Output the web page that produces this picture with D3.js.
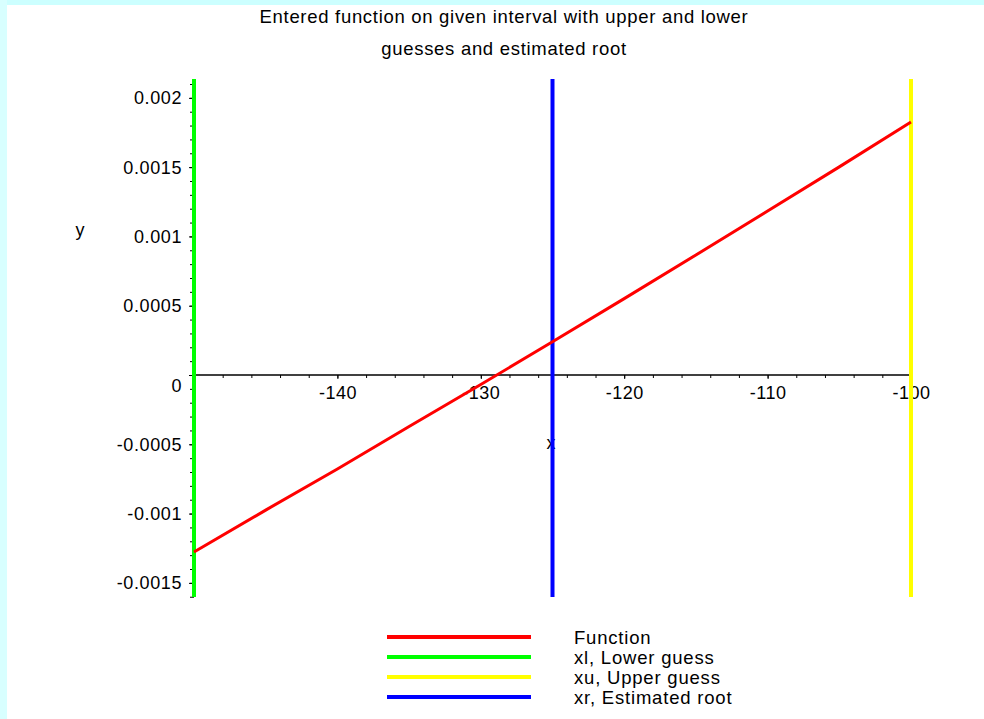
<!DOCTYPE html>
<html>
<head>
<meta charset="utf-8">
<script src="https://cdn.jsdelivr.net/npm/d3@7"></script>
<style>
  html, body { margin: 0; padding: 0; background: #ffffff; }
  svg { display: block; }
  text { font-family: "Liberation Sans", Arial, sans-serif; fill: #000; }
</style>
</head>
<body>
<svg id="chart" width="984" height="719"></svg>
<script>
// ---- data ----
const titleLines = ["Entered function on given interval with upper and lower", "guesses and estimated root"];
const xValues = [-150, -145, -140, -135, -130, -125, -120, -115, -110, -105, -100];
const fValues = [-0.001277, -0.000975, -0.000678, -0.000372, -0.000069, 0.00024, 0.000551, 0.000866, 0.001183, 0.001502, 0.001825];
const xDomain = [-150, -100];
const yDomain = [-0.001602, 0.002136];
const xMajorTicks = [-140, -130, -120, -110, -100];
const xTickLabels = ["-140", "-130", "-120", "-110", "-100"];
const xMinorTicks = d3.range(-150, -99, 2);
const yMajorTicks = [-0.0015, -0.001, -0.0005, 0, 0.0005, 0.001, 0.0015, 0.002];
const yTickLabels = ["-0.0015", "-0.001", "-0.0005", "0", "0.0005", "0.001", "0.0015", "0.002"];
const yMinorTicks = d3.range(-16, 22).map(d => d / 10000);
const guessValues = [-150, -100, -125];
const legendLabels = ["Function", "xl, Lower guess", "xu, Upper guess", "xr, Estimated root"];
const seriesColors = ["#ff0000", "#00ff00", "#ffff00", "#0000ff"];

// ---- layout ----
const svg = d3.select("#chart");
svg.append("rect").attr("x", 0).attr("y", 0).attr("width", 984).attr("height", 719).attr("fill", "#ffffff");
svg.append("rect").attr("x", 0).attr("y", 0).attr("width", 984).attr("height", 5).attr("fill", "#ccffff");
svg.append("rect").attr("x", 0).attr("y", 0).attr("width", 7).attr("height", 719).attr("fill", "#d8ffff");

const x = d3.scaleLinear().domain(xDomain).range([194, 911]);
const y = d3.scaleLinear().domain(yDomain).range([597, 79]);

// title
svg.selectAll("text.title").data(titleLines).join("text")
  .attr("class", "title")
  .attr("x", 504).attr("y", (d, i) => 23 + i * 32)
  .attr("text-anchor", "middle")
  .style("font-size", "18.5px")
  .style("letter-spacing", "0.7px")
  .text(d => d);

// x axis (minor + major)
const xAxisG = svg.append("g").attr("transform", `translate(0,${y(0)})`);
xAxisG.append("g")
  .call(d3.axisBottom(x).tickValues(xMinorTicks).tickSize(3).tickFormat(""))
  .call(g => g.select(".domain").attr("stroke-width", 1.5).attr("d", `M${x(xDomain[0])},0H${x(xDomain[1])}`));
xAxisG.append("g")
  .call(d3.axisBottom(x).tickValues(xMajorTicks).tickSize(4).tickPadding(7).tickFormat((d, i) => xTickLabels[i]))
  .call(g => g.select(".domain").remove())
  .call(g => g.selectAll("text").style("font-size", "18px").style("letter-spacing", "0.5px").attr("fill", "#000").attr("font-family", null));

// y axis (minor + major)
const yAxisG = svg.append("g").attr("transform", `translate(${x(xDomain[0])},0)`);
yAxisG.append("g")
  .call(d3.axisLeft(y).tickValues(yMinorTicks).tickSize(4).tickFormat(""))
  .call(g => g.select(".domain").attr("d", `M0,${y(yDomain[0])}V${y(yDomain[1])}`));
yAxisG.append("g")
  .call(d3.axisLeft(y).tickValues(yMajorTicks).tickSize(5).tickPadding(7)
    .tickFormat((d, i) => yTickLabels[i]))
  .call(g => g.select(".domain").remove())
  .call(g => g.selectAll("text").style("font-size", "18px").style("letter-spacing", "0.6px").attr("fill", "#000").attr("font-family", null)
    .attr("dy", d => d === 0 ? "0.9em" : "0.34em"));

// axis names
svg.append("text").attr("x", 80).attr("y", 236).attr("text-anchor", "middle").style("font-size", "18px").text("y");
svg.append("text").attr("x", 551).attr("y", 449).attr("text-anchor", "middle").style("font-size", "18px").text("x");

// vertical guess lines
svg.selectAll("line.guess").data(guessValues).join("line")
  .attr("class", "guess")
  .attr("x1", d => x(d)).attr("x2", d => x(d))
  .attr("y1", y(yDomain[1])).attr("y2", y(yDomain[0]))
  .attr("stroke", (d, i) => seriesColors[i + 1])
  .attr("stroke-width", 4);

// function
const line = d3.line().x((d, i) => x(xValues[i])).y(d => y(d));
svg.append("path").datum(fValues)
  .attr("d", line)
  .attr("fill", "none")
  .attr("stroke", seriesColors[0])
  .attr("stroke-width", 3);

// legend
const legend = svg.append("g");
const legendY = d3.scaleBand().domain(legendLabels).range([627, 707]);
legend.selectAll("line").data(legendLabels).join("line")
  .attr("x1", 387).attr("x2", 531)
  .attr("y1", d => legendY(d) + legendY.bandwidth() / 2)
  .attr("y2", d => legendY(d) + legendY.bandwidth() / 2)
  .attr("stroke", (d, i) => seriesColors[i])
  .attr("stroke-width", 4);
legend.selectAll("text").data(legendLabels).join("text")
  .attr("x", 574)
  .attr("y", d => legendY(d) + legendY.bandwidth() / 2 + 7)
  .style("font-size", "18.5px")
  .style("letter-spacing", "0.8px")
  .text(d => d);
</script>
</body>
</html>
